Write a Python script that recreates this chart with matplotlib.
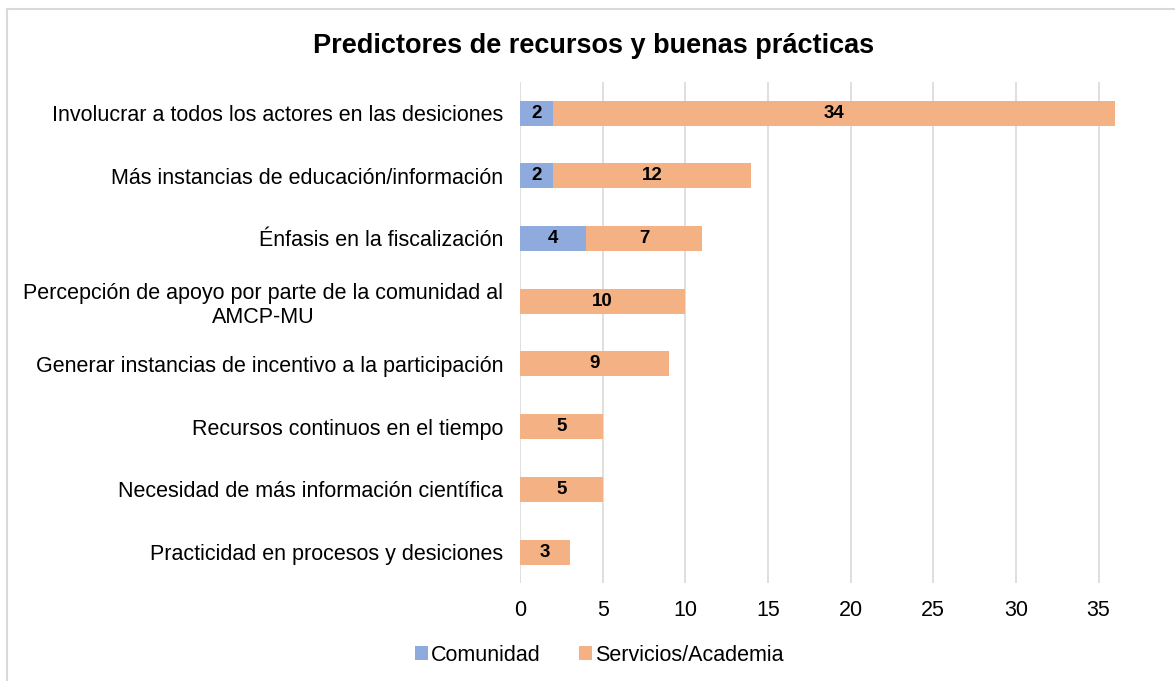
import matplotlib
matplotlib.use("Agg")
import matplotlib.pyplot as plt
from matplotlib.lines import Line2D

plt.rcParams['font.family'] = ['Liberation Sans', 'DejaVu Sans']

categories = [
    "Involucrar a todos los actores en las desiciones",
    "Más instancias de educación/información",
    "Énfasis en la fiscalización",
    "Percepción de apoyo por parte de la comunidad al\nAMCP-MU",
    "Generar instancias de incentivo a la participación",
    "Recursos continuos en el tiempo",
    "Necesidad de más información científica",
    "Practicidad en procesos y desiciones",
]
comunidad = [2, 2, 4, 0, 0, 0, 0, 0]
servicios = [34, 12, 7, 10, 9, 5, 5, 3]
x_ticks = [0, 5, 10, 15, 20, 25, 30, 35]

blue = '#8FAADC'
orange = '#F4B183'

fig = plt.figure(figsize=(11.75, 6.81), dpi=100)
ax = fig.add_axes([0.4426, 0.1433, 0.5064, 0.7367])

ypos = list(range(len(categories)))
b1 = ax.barh(ypos, comunidad, height=0.4, color=blue, label='Comunidad', zorder=3)
b2 = ax.barh(ypos, servicios, left=comunidad, height=0.4, color=orange,
             label='Servicios/Academia', zorder=3)

for bars, vals in ((b1, comunidad), (b2, servicios)):
    for rect, v in zip(bars, vals):
        if v > 0:
            ax.text(rect.get_x() + rect.get_width() / 2, rect.get_y() + rect.get_height() / 2,
                    str(v), ha='center', va='center', fontsize=13.5, fontweight='bold',
                    color='black', zorder=4)

ax.set_ylim(len(categories) - 0.5, -0.5)
ax.set_xlim(0, 36)
ax.set_xticks(x_ticks)
ax.set_yticks(ypos)
ax.set_yticklabels(categories, fontsize=15.5, color='#000000')
for lbl in ax.get_yticklabels():
    lbl.set_multialignment('center')
    lbl.set_linespacing(1.2)
ax.tick_params(axis='x', labelsize=15.5, length=0, pad=12)
ax.tick_params(axis='y', length=0, pad=12)
ax.grid(axis='x', color='#D9D9D9', linewidth=1.2, zorder=0)
for s in ax.spines.values():
    s.set_visible(False)

fig.suptitle('Predictores de recursos y buenas prácticas', x=0.505, y=0.952,
             fontsize=19.5, fontweight='bold')

fig.legend(handles=[b1, b2], loc='center', bbox_to_anchor=(0.51, 0.038), ncol=2,
           frameon=False, fontsize=15.5, handlelength=0.6, handleheight=0.6,
           handletextpad=0.15, columnspacing=1.8)

# partial chart border (top and left edges)
fig.add_artist(Line2D([7 / 1175, 1.0], [1 - 9 / 681, 1 - 9 / 681], color='#D9D9D9', lw=1.5))
fig.add_artist(Line2D([7 / 1175, 7 / 1175], [0.0, 1 - 9 / 681], color='#D9D9D9', lw=1.5))

fig.savefig('out.png', dpi=100, facecolor='white')
